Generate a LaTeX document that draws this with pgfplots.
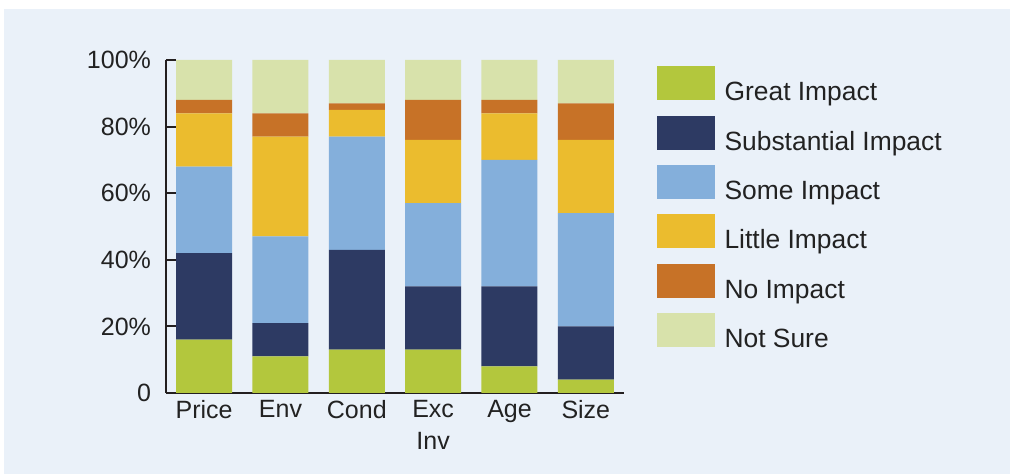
\documentclass[border=0pt]{standalone}
\usepackage{pgfplots}
\pgfplotsset{compat=1.18}
\usepackage{fontspec}
\setmainfont{Liberation Sans}
\definecolor{cgreat}{HTML}{B3C73D}
\definecolor{csubst}{HTML}{2D3A63}
\definecolor{csome}{HTML}{84AFDB}
\definecolor{clittle}{HTML}{EBBC2E}
\definecolor{cno}{HTML}{C77227}
\definecolor{cnot}{HTML}{D8E2AB}
\definecolor{cbg}{HTML}{EAF1F9}
\definecolor{caxis}{HTML}{231F20}
\definecolor{ctext}{HTML}{222222}
\pgfplotsset{legbox/.style={legend image code/.code={\fill[##1] (0pt,-4.5pt) rectangle (29pt,12.5pt);}}}
\pgfplotstableread{
x great subst some little no notsure
0 16 26 26 16 4 12
1 11 10 26 30 7 16
2 13 30 34 8 2 13
3 13 19 25 19 12 12
4 8 24 38 14 4 12
5 4 16 34 22 11 13
}\datatable
\begin{document}
\begin{tikzpicture}[x=1pt,y=1pt]
\fill[white] (-83,-41) rectangle (422,196.5);
\fill[cbg] (-81,-40.5) rectangle (422,192);
\begin{axis}[
  at={(0,0)}, anchor=south west,
  scale only axis, width=229pt, height=166.5pt,
  ybar stacked, bar width=28pt,
  xmin=-0.5, xmax=5.5, ymin=0, ymax=100,
  axis x line*=bottom, axis y line*=left,
  axis line style={caxis, line width=1pt},
  tick align=inside,
  xtick={0,...,5},
  xticklabels={Price,Env,Cond,{Exc\\Inv},Age,Size},
  x tick style={draw=none},
  minor xtick={0.5,1.5,2.5,3.5,4.5,5.5},
  minor x tick style={caxis, line width=1pt},
  minor tick length=3.5pt,
  ytick={0,20,40,60,80,100},
  yticklabels={0,20\%,40\%,60\%,80\%,100\%},
  y tick style={caxis, line width=1pt},
  major tick length=5pt,
  ticklabel style={font=\fontsize{12.5}{16}\selectfont, text=ctext},
  xticklabel style={align=center},
  yticklabel style={xshift=-4pt},
  legend style={at={(1.072,0.982)}, anchor=north west, draw=none, fill=none,
    inner sep=0pt, row sep=7.5pt, font=\fontsize{13.2}{15}\selectfont, text=ctext,
    nodes={inner ysep=0pt, inner xsep=4.6pt, text depth=0pt}},
  legend cell align=left,
]
\addplot[fill=cgreat, draw=none, legbox] table[x=x,y=great]{\datatable};
\addplot[fill=csubst, draw=none, legbox] table[x=x,y=subst]{\datatable};
\addplot[fill=csome, draw=none, legbox] table[x=x,y=some]{\datatable};
\addplot[fill=clittle, draw=none, legbox] table[x=x,y=little]{\datatable};
\addplot[fill=cno, draw=none, legbox] table[x=x,y=no]{\datatable};
\addplot[fill=cnot, draw=none, legbox] table[x=x,y=notsure]{\datatable};
\legend{Great Impact,Substantial Impact,Some Impact,Little Impact,No Impact,Not Sure}
\end{axis}
\pgfresetboundingbox
\useasboundingbox (-83,-41) rectangle (422,196.5);
\end{tikzpicture}
\end{document}
